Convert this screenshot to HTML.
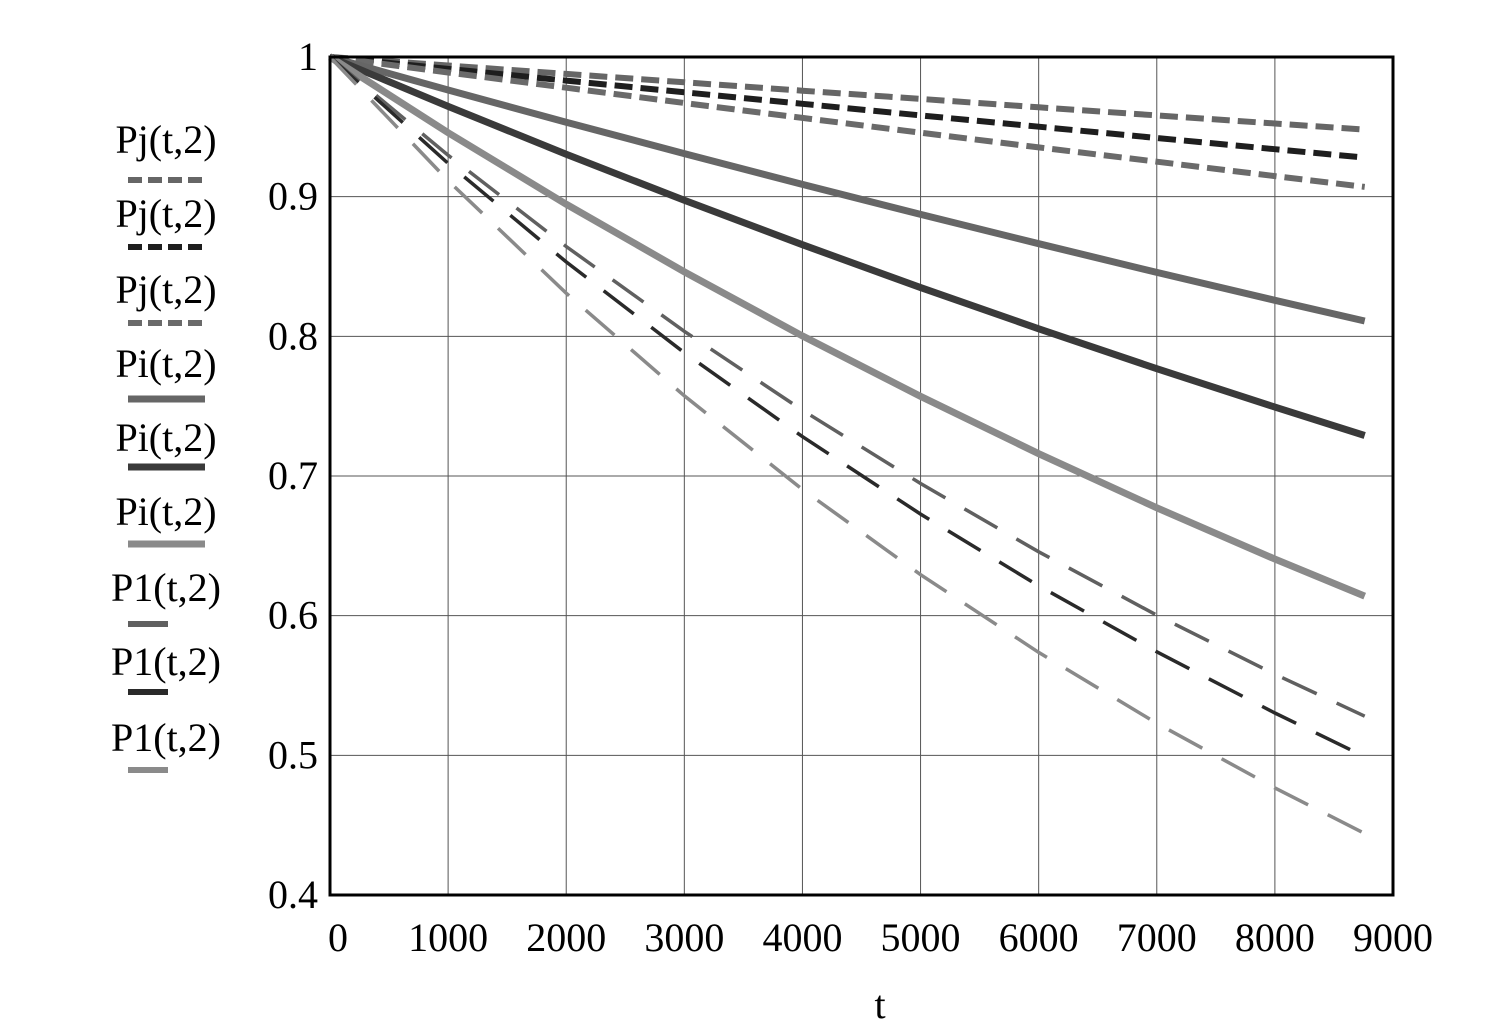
<!DOCTYPE html>
<html><head><meta charset="utf-8"><style>
body{margin:0;background:#fff;}
svg text{font-family:"Liberation Serif",serif;}
</style></head><body>
<svg width="1489" height="1025" viewBox="0 0 1489 1025">
<g id="grid"></g>
<g id="series"></g>
<rect x="330" y="57" width="1063" height="838" fill="none" stroke="#000" stroke-width="3"/>
<g id="ticks"></g>
<text x="880" y="1018" font-size="40" text-anchor="middle">t</text>
<g id="legend"></g>
</svg>
<script>
const tVals=[0,1000,2000,3000,4000,5000,6000,7000,8000,8760];
const pj1=[1,.9939,.9879,.9819,.9759,.9700,.9640,.9582,.9524,.948];
const pj2=[1,.9915,.9831,.9747,.9665,.9582,.9501,.9420,.9340,.928];
const pj3=[1,.9889,.9780,.9671,.9564,.9458,.9353,.9250,.9147,.907];
const pi1=[1,.9764,.9533,.9308,.9088,.8873,.8663,.8458,.8258,.811];
const pi2=[1,.9646,.9304,.8974,.8656,.8349,.8054,.7768,.7493,.729];
const pi3=[1,.9458,.8946,.8462,.8003,.7570,.7160,.6772,.6405,.614];
const p1a=[1,.9297,.8643,.8036,.7471,.6946,.6457,.6003,.5581,.528];
const p1b=[1,.9238,.8533,.7883,.7282,.6727,.6214,.5741,.5303,.499];
const p1c=[1,.9115,.8309,.7574,.6904,.6293,.5737,.5229,.4767,.444];
const xTicks=[0,1000,2000,3000,4000,5000,6000,7000,8000,9000];
const yTicks=[0.4,0.5,0.6,0.7,0.8,0.9,1];
const legendLabels=["Pj(t,2)","Pj(t,2)","Pj(t,2)","Pi(t,2)","Pi(t,2)","Pi(t,2)","P1(t,2)","P1(t,2)","P1(t,2)"];
const X=t=>330+(t/9000)*1063;
const Y=v=>895-(v-0.4)/0.6*838;
const NS="http://www.w3.org/2000/svg";
function mk(tag,attrs,parent){const e=document.createElementNS(NS,tag);for(const k in attrs)e.setAttribute(k,attrs[k]);parent.appendChild(e);return e;}
const grid=document.getElementById('grid'),ticks=document.getElementById('ticks'),ser=document.getElementById('series'),leg=document.getElementById('legend');
xTicks.forEach(t=>{
 if(t>0&&t<9000){const l=mk('line',{x1:X(t),x2:X(t),y1:57,y2:895,stroke:'#555','stroke-width':1},grid);
 
 }
 const tx=mk('text',{x:t===0?338:X(t),y:951,'font-size':40,'text-anchor':'middle'},ticks);tx.textContent=t;
 
 
});
yTicks.forEach(v=>{
 if(v>0.4&&v<1){const l=mk('line',{x1:330,x2:1393,y1:Y(v),y2:Y(v),stroke:'#555','stroke-width':1},grid);
 
 }
 const tx=mk('text',{x:318,y:Y(v)+13,'font-size':40,'text-anchor':'end'},ticks);tx.textContent=v===1?'1':v.toFixed(1);
 
 
});
const styles=[
 [pj1,'#666',6,'18,8'],[pj2,'#1e1e1e',6,'18,8'],[pj3,'#6a6a6a',6,'18,8'],
 [pi1,'#666',7,''],[pi2,'#3a3a3a',7,''],[pi3,'#8a8a8a',7,''],
 [p1a,'#606060',3.5,'38,22'],[p1b,'#2a2a2a',3.5,'38,22'],[p1c,'#8a8a8a',3.5,'38,22']];
styles.forEach((s,i)=>{
 const d=s[0].map((v,j)=>(j?'L':'M')+X(tVals[j]).toFixed(1)+','+Y(v).toFixed(1)).join('');
 const p=mk('path',{d:d,fill:'none',stroke:s[1],'stroke-width':s[2]},ser);
 if(s[3])p.setAttribute('stroke-dasharray',s[3]);
 
 
});
const legY=[153,227,303,377,451,525,601,675,751];
const lineY=[180,247,323,399,467,544,624,692,770];
legendLabels.forEach((lab,i)=>{
 const tx=mk('text',{x:166,y:legY[i],'font-size':40,'text-anchor':'middle'},leg);tx.textContent=lab;
 
 
 const s=styles[i];const short=i>=6;
 const ln=mk('line',{x1:128,x2:short?168:205,y1:lineY[i],y2:lineY[i],stroke:s[1],'stroke-width':short?6:s[2]},leg);
 if(s[3]&&!short)ln.setAttribute('stroke-dasharray','14,6');
 
 
});
</script>
</body></html>
